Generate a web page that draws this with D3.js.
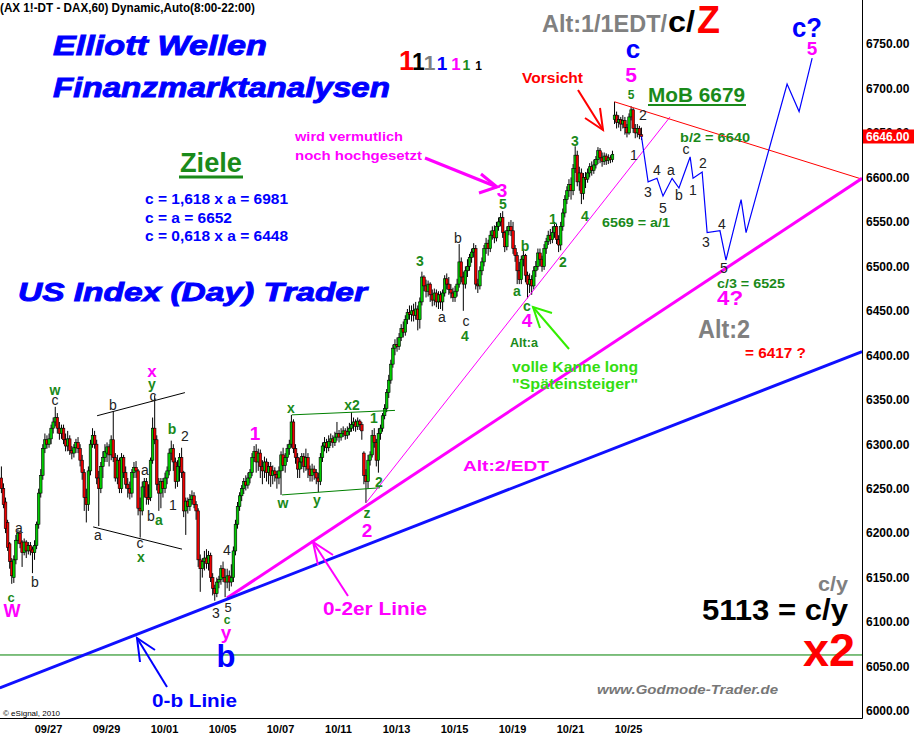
<!DOCTYPE html>
<html><head><meta charset="utf-8">
<script src="https://cdn.jsdelivr.net/npm/d3@7"></script>
<style>html,body{margin:0;padding:0;background:#fff;} svg{display:block;}</style>
</head><body><div id="chart"></div>
<script>
// ---------- DATA ----------
const dayLabels = ["09/23","09/24","09/27","09/28","09/29","09/30","10/01","10/04","10/05","10/06","10/07","10/08","10/11","10/12","10/13","10/14","10/15","10/18","10/19","10/20","10/21","10/22","10/25"];
const tickDays = ["09/27","09/29","10/01","10/05","10/07","10/11","10/13","10/15","10/19","10/21","10/25"];
const barsPerDay = 14;
const firstDayBars = 2;

const opens = [
6262,6250,
6235,6212,6188,6168,6150,6170,6192,6200,6190,6178,6190,6180,6186,6182,
6178,6186,6210,6245,6265,6295,6305,6300,6306,6318,6325,6330,6318,6312,
6318,6305,6298,6306,6293,6290,6296,6302,6295,6282,6268,6240,6232,6270,
6300,6310,6300,6262,6250,6275,6285,6290,6297,6288,6305,6285,6262,6282,
6250,6285,6268,6255,6250,6245,6268,6274,6270,6228,6225,6252,6258,6240,
6240,6282,6318,6305,6255,6245,6258,6250,6262,6270,6290,6295,6280,6258,
6275,6285,6268,6225,6236,6230,6238,6242,6232,6225,6170,6160,6168,6172,
6166,6175,6150,6138,6132,6145,6148,6160,6150,6145,6152,6145,6150,6180,
6210,6230,6242,6250,6258,6254,6262,6268,6285,6292,6280,6290,6275,6270,
6280,6268,6275,6265,6270,6266,6262,6270,6288,6276,6285,6295,6300,6325,
6295,6285,6272,6280,6286,6275,6285,6272,6265,6272,6268,6262,6258,6285,
6298,6302,6296,6303,6306,6302,6308,6312,6308,6312,6315,6310,6314,6318,
6322,6325,6320,6326,6322,6290,6265,6258,6282,6288,6310,6302,6282,6312,
6318,6332,6340,6358,6372,6390,6408,6412,6410,6420,6430,6426,6440,6448,
6446,6450,6445,6452,6440,6460,6488,6478,6472,6480,6468,6462,6470,6460,
6468,6460,6470,6486,6480,6474,6470,6465,6472,6480,6505,6488,6480,6495,
6500,6510,6516,6520,6480,6478,6495,6505,6520,6526,6520,6535,6540,6532,
6545,6550,6555,6538,6522,6540,6545,6540,6520,6512,6495,6485,6508,6512,
6490,6480,6485,6478,6495,6500,6515,6508,6500,6520,6528,6535,6530,6538,
6545,6530,6524,6545,6560,6575,6585,6592,6585,6610,6625,6595,6605,6582,
6600,6598,6605,6612,6608,6614,6620,6630,6622,6618,6624,6619,6622,6620,
6665,6670,6662,6665,6660,6664,6656,6650,6668,6676,6655,6650,6655,6648];
const highs = [
6275,6256,
6240,6215,6190,6172,6175,6198,6204,6203,6192,6194,6192,6190,6190,6185,
6192,6213,6250,6272,6300,6312,6310,6312,6322,6330,6342,6335,6325,6322,
6322,6312,6315,6310,6298,6300,6306,6308,6300,6288,6272,6250,6275,6305,
6318,6315,6305,6270,6280,6292,6300,6302,6300,6310,6337,6290,6288,6285,
6290,6288,6275,6262,6258,6272,6280,6281,6272,6240,6258,6262,6262,6255,
6285,6330,6355,6310,6262,6262,6262,6268,6275,6295,6304,6300,6285,6282,
6290,6296,6270,6240,6240,6244,6248,6246,6236,6228,6176,6172,6180,6182,
6180,6178,6155,6142,6150,6152,6164,6168,6160,6160,6158,6165,6185,6215,
6235,6246,6254,6262,6265,6268,6272,6290,6298,6300,6295,6294,6282,6286,
6284,6280,6280,6276,6274,6270,6275,6292,6296,6290,6300,6305,6333,6328,
6300,6290,6285,6290,6290,6295,6290,6276,6278,6276,6272,6268,6290,6302,
6308,6306,6310,6312,6310,6314,6325,6316,6318,6320,6318,6320,6324,6336,
6330,6328,6330,6328,6325,6292,6272,6288,6292,6316,6318,6306,6318,6322,
6335,6345,6362,6378,6395,6412,6418,6420,6425,6435,6438,6445,6452,6456,
6456,6458,6460,6456,6465,6494,6490,6485,6484,6482,6474,6475,6474,6472,
6472,6474,6490,6492,6488,6480,6476,6478,6486,6525,6510,6494,6500,6508,
6514,6520,6526,6524,6486,6500,6510,6524,6532,6530,6540,6545,6546,6550,
6555,6560,6562,6540,6545,6550,6552,6550,6524,6516,6505,6512,6518,6514,
6494,6492,6490,6500,6506,6520,6520,6512,6525,6532,6540,6542,6545,6550,
6548,6535,6550,6565,6580,6590,6598,6600,6615,6635,6630,6612,6610,6605,
6606,6610,6616,6618,6620,6624,6634,6633,6628,6628,6627,6626,6625,6630,
6685,6674,6670,6668,6670,6668,6660,6672,6680,6678,6660,6660,6658,6656];
const lows = [
6245,6228,
6200,6180,6160,6143,6144,6165,6188,6183,6162,6175,6172,6176,6175,6155,
6170,6182,6205,6240,6260,6290,6295,6296,6300,6312,6320,6312,6305,6306,
6300,6292,6292,6288,6283,6285,6290,6290,6275,6260,6225,6212,6225,6265,
6296,6295,6255,6208,6245,6262,6280,6280,6275,6282,6280,6258,6255,6245,
6245,6262,6250,6240,6238,6240,6262,6262,6220,6195,6220,6240,6232,6232,
6236,6278,6300,6248,6225,6228,6240,6245,6255,6265,6282,6270,6250,6252,
6258,6262,6218,6198,6222,6225,6232,6228,6215,6162,6134,6150,6158,6160,
6158,6145,6130,6124,6128,6138,6142,6145,6128,6138,6135,6140,6145,6175,
6205,6225,6236,6244,6248,6250,6256,6264,6280,6268,6270,6262,6255,6262,
6258,6255,6252,6255,6258,6250,6255,6243,6270,6268,6280,6288,6296,6290,
6278,6262,6262,6272,6268,6270,6262,6258,6258,6260,6255,6246,6254,6280,
6292,6290,6292,6298,6296,6298,6304,6302,6304,6308,6305,6306,6310,6314,
6315,6314,6316,6316,6305,6255,6234,6250,6276,6285,6296,6275,6268,6305,
6314,6328,6336,6352,6368,6386,6400,6404,6406,6416,6420,6422,6435,6440,
6438,6438,6440,6428,6430,6456,6472,6465,6466,6460,6455,6456,6454,6452,
6452,6450,6466,6474,6468,6464,6460,6460,6466,6476,6482,6450,6475,6488,
6495,6504,6510,6474,6470,6474,6490,6500,6514,6512,6516,6530,6526,6528,
6540,6545,6532,6516,6518,6535,6534,6514,6505,6480,6480,6480,6500,6482,
6464,6470,6468,6474,6488,6496,6500,6494,6496,6514,6524,6525,6526,6532,
6525,6516,6518,6540,6555,6570,6578,6575,6580,6605,6590,6585,6570,6575,
6588,6594,6600,6602,6604,6610,6615,6616,6612,6614,6614,6615,6616,6617,
6660,6655,6656,6652,6655,6648,6645,6648,6664,6650,6644,6645,6643,6642];
const closes = [
6250,6232,
6205,6184,6168,6152,6170,6192,6200,6188,6178,6190,6180,6186,6180,6178,
6186,6210,6245,6265,6295,6305,6300,6306,6318,6325,6330,6318,6312,6318,
6305,6298,6306,6293,6290,6296,6302,6295,6282,6268,6240,6232,6270,6300,
6310,6300,6262,6250,6275,6285,6292,6297,6288,6305,6285,6262,6282,6250,
6285,6268,6255,6250,6245,6268,6274,6270,6228,6225,6252,6258,6240,6238,
6282,6318,6305,6255,6245,6258,6250,6262,6270,6290,6295,6280,6258,6275,
6285,6268,6225,6236,6230,6238,6242,6232,6225,6170,6160,6168,6172,6166,
6175,6150,6138,6132,6145,6148,6160,6150,6145,6152,6145,6150,6180,6210,
6230,6242,6250,6258,6254,6262,6268,6285,6292,6280,6290,6275,6270,6280,
6268,6275,6265,6270,6266,6262,6270,6288,6276,6285,6295,6300,6325,6295,
6285,6272,6280,6286,6275,6285,6272,6265,6272,6268,6262,6258,6285,6298,
6302,6296,6303,6306,6302,6308,6312,6308,6312,6315,6310,6314,6318,6322,
6325,6320,6326,6322,6315,6265,6258,6282,6288,6310,6302,6282,6312,6318,
6332,6340,6358,6372,6390,6408,6412,6410,6420,6430,6426,6440,6448,6446,
6450,6445,6452,6440,6460,6488,6478,6472,6480,6468,6462,6470,6460,6468,
6460,6470,6486,6480,6474,6470,6465,6472,6480,6505,6488,6480,6495,6500,
6510,6516,6520,6480,6478,6495,6505,6520,6526,6520,6535,6540,6532,6545,
6550,6555,6538,6522,6540,6545,6540,6520,6512,6495,6485,6508,6512,6490,
6480,6485,6478,6495,6500,6515,6508,6500,6520,6528,6535,6530,6538,6545,
6530,6524,6545,6560,6575,6585,6592,6585,6610,6625,6595,6605,6582,6600,
6598,6605,6612,6608,6614,6620,6630,6622,6618,6624,6619,6622,6620,6626,
6670,6662,6665,6660,6664,6656,6650,6668,6676,6655,6650,6655,6648,6646];

const priceTicks = d3.range(6000, 6751, 50);
const lastPrice = 6646;

// trend lines: [bar index, price]
const zeroBLine   = [[-0.3, 6026], [416, 6404]];
const zeroTwoLine = [[109.4, 6127], [416, 6599]];
const thinPinkLine = [[176.5, 6234], [323.3, 6668]];
const redLine     = [[296.5, 6685], [416, 6598]];
const greenLevel  = 6063;
const blackUpper  = [[46.7, 6332], [89.1, 6358]];
const blackLower  = [[44.8, 6207], [87.7, 6182]];
const greenUpper  = [[140.8, 6333], [190.5, 6338]];
const greenLower  = [[136, 6243], [183.3, 6251]];
const projection  = [[309.5, 6646], [312.7, 6595], [317, 6599], [319.9, 6579], [324.3, 6599], [327.6, 6588], [333, 6623], [334.4, 6599], [338.8, 6606], [341.2, 6538], [347.4, 6540], [350.3, 6507], [357.6, 6575], [360, 6538], [379.8, 6705], [385.6, 6674], [391.9, 6734]];

// ---------- LAYOUT ----------
const W = 915, H = 740, plotR = 862, plotB = 718;
const FONT = "Arial, 'Liberation Sans', Helvetica, sans-serif";
const BLUE = "#0000ff", MAG = "#ff00ff", GRN = "#1a8a1a", DARK = "#222", GRAY = "#808080", RED = "#ff0000", LIME = "#33dd11";

const svg = d3.select("#chart").append("svg").attr("width", W).attr("height", H)
  .style("font-family", FONT);

const x = d3.scaleLinear().domain([2, 310]).range([4.5, 642.5]);
const y = d3.scaleLinear().domain([6000, 6750]).range([711, 44]);

svg.append("defs").append("clipPath").attr("id", "clip")
  .append("rect").attr("x", 0).attr("y", 0).attr("width", plotR).attr("height", plotB);

const plot = svg.append("g").attr("clip-path", "url(#clip)");
const line = d3.line().x(d => x(d[0])).y(d => y(d[1]));

// green level
plot.append("path").attr("d", line([[-2, greenLevel], [420, greenLevel]]))
  .attr("stroke", "#008000").attr("stroke-width", 1).attr("fill", "none");

// candles
const idx = d3.range(closes.length);
plot.append("g").selectAll("line").data(idx).join("line")
  .attr("x1", i => x(i + 0.5)).attr("x2", i => x(i + 0.5))
  .attr("y1", i => y(highs[i])).attr("y2", i => y(lows[i]))
  .attr("stroke", "#000").attr("stroke-width", 1);
plot.append("g").selectAll("rect").data(idx).join("rect")
  .attr("x", i => x(i + 0.5) - 1.3).attr("width", 2.6)
  .attr("y", i => Math.min(y(opens[i]), y(closes[i])))
  .attr("height", i => Math.max(1, Math.abs(y(opens[i]) - y(closes[i]))))
  .attr("fill", i => closes[i] >= opens[i] ? "#00cc00" : "#ee0000")
  .attr("stroke", "#000").attr("stroke-width", 0.6);

// trend lines
const drawL = (pts, col, w) => plot.append("path").attr("d", line(pts))
  .attr("stroke", col).attr("stroke-width", w).attr("fill", "none");
drawL(blackUpper, "#000", 1); drawL(blackLower, "#000", 1);
drawL(greenUpper, "#008000", 1); drawL(greenLower, "#008000", 1);
drawL(thinPinkLine, MAG, 1);
drawL(redLine, RED, 1);
drawL(zeroTwoLine, MAG, 3);
drawL(zeroBLine, "#1010ff", 3);
drawL(projection, BLUE, 1.2);

// arrows (pixel layout)
const arrows = [
  {c: MAG, w: 3, s: [[425,158],[497,187]], h: [[481,174],[497,187],[479,193]]},
  {c: RED, w: 2, s: [[578,90],[603,130]], h: [[585,118],[603,130],[600,108]]},
  {c: "#33ee00", w: 2, s: [[569,349],[533,307]], h: [[540,328],[533,307],[552,313]]},
  {c: MAG, w: 2, s: [[348,596],[313,542]], h: [[333,555],[313,542],[318,565]]},
  {c: BLUE, w: 2, s: [[167,687],[137,638]], h: [[155,650],[137,638],[140,662]]}
];
const pl = d3.line();
arrows.forEach(a => {
  svg.append("path").attr("d", pl(a.s)).attr("stroke", a.c).attr("stroke-width", a.w).attr("fill", "none");
  svg.append("path").attr("d", pl(a.h)).attr("stroke", a.c).attr("stroke-width", a.w).attr("fill", "none");
});

// axes frame
svg.append("line").attr("x1", plotR + 0.5).attr("x2", plotR + 0.5).attr("y1", 0).attr("y2", plotB + 0.5)
  .attr("stroke", "#000").attr("stroke-width", 1);
svg.append("line").attr("x1", 0).attr("x2", plotR + 0.5).attr("y1", plotB + 0.5).attr("y2", plotB + 0.5)
  .attr("stroke", "#000").attr("stroke-width", 1);

const yAxis = svg.append("g").attr("transform", `translate(${plotR},0)`)
  .call(d3.axisRight(y).tickValues(priceTicks).tickFormat(d3.format(".2f")).tickSize(0).tickPadding(4));
yAxis.select(".domain").remove();
yAxis.selectAll("text").attr("font-size", 12).attr("font-weight", "bold").attr("font-family", FONT).attr("fill", "#000");

const tickIdx = tickDays.map(l => firstDayBars + (dayLabels.indexOf(l) - 1) * barsPerDay + barsPerDay / 2);
const xAxis = svg.append("g").attr("transform", `translate(0,${plotB})`)
  .call(d3.axisBottom(x).tickValues(tickIdx).tickFormat((d, i) => tickDays[i]).tickSize(0).tickPadding(7));
xAxis.select(".domain").remove();
xAxis.selectAll("text").attr("font-size", 11).attr("font-weight", "bold").attr("font-family", FONT).attr("fill", "#000");

// last price tag (covers the neighbouring tick label, as in the original)
svg.append("rect").attr("x", plotR + 1).attr("y", y(lastPrice) - 7).attr("width", 51).attr("height", 14).attr("fill", "#ff0000");
svg.append("text").attr("x", plotR + 4).attr("y", y(lastPrice) + 4.5).text(d3.format(".2f")(lastPrice))
  .attr("font-size", 12).attr("font-weight", "bold").attr("fill", "#fff");

// ---------- ANNOTATIONS ----------
// [text, x, y, size, color, weight, style, anchor, width]
const notes = [
  ["(AX 1!-DT - DAX,60) Dynamic,Auto(8:00-22:00)", 0, 12, 12, "#000", "bold", "normal", "start", 255],
  ["Elliott Wellen", 53, 55, 27, BLUE, "bold", "italic", "start", 214],
  ["Finanzmarktanalysen", 53, 97, 27, BLUE, "bold", "italic", "start", 337],
  ["1", 406.5, 70, 27, RED, "bold", "normal", "middle", 0],
  ["1", 418.5, 70, 23, "#000", "bold", "normal", "middle", 0],
  ["1", 429.5, 70, 21, GRAY, "bold", "normal", "middle", 0],
  ["1", 442, 70, 19, BLUE, "bold", "normal", "middle", 0],
  ["1", 456, 70, 17, MAG, "bold", "normal", "middle", 0],
  ["1", 466.5, 70, 14, GRN, "bold", "normal", "middle", 0],
  ["1", 478.5, 70, 12, "#000", "bold", "normal", "middle", 0],
  ["Alt:1/1EDT/", 542, 32, 24, GRAY, "bold", "normal", "start", 125],
  ["c/", 668, 32, 30, "#000", "bold", "normal", "start", 27],
  ["Z", 697, 33, 38, RED, "bold", "normal", "start", 23],
  ["c", 633, 58, 26, BLUE, "bold", "normal", "middle", 0],
  ["5", 631, 82, 21, MAG, "bold", "normal", "middle", 0],
  ["5", 631, 99, 12, GRN, "bold", "normal", "middle", 0],
  ["Vorsicht", 522, 83, 14, RED, "bold", "normal", "start", 61],
  ["MoB 6679", 648, 102, 20, GRN, "bold", "normal", "start", 97],
  ["c?", 792, 37, 27, BLUE, "bold", "normal", "start", 30],
  ["5", 812, 55, 19, MAG, "bold", "normal", "middle", 0],
  ["b/2 = 6640", 680, 142, 13, GRN, "bold", "normal", "start", 70],
  ["6569 = a/1", 602, 227, 13, GRN, "bold", "normal", "start", 68],
  ["Ziele", 180, 172, 27, GRN, "bold", "normal", "start", 62],
  ["c = 1,618 x a = 6981", 145, 204, 14, BLUE, "bold", "normal", "start", 143],
  ["c = a = 6652", 145, 223, 14, BLUE, "bold", "normal", "start", 87],
  ["c = 0,618 x a = 6448", 145, 241, 14, BLUE, "bold", "normal", "start", 143],
  ["wird vermutlich", 295, 141, 13, MAG, "bold", "normal", "start", 108],
  ["noch hochgesetzt", 295, 160, 13, MAG, "bold", "normal", "start", 127],
  ["US Index (Day) Trader", 18, 301, 25, BLUE, "bold", "italic", "start", 349],
  ["Alt:2/EDT", 463, 471, 14, MAG, "bold", "normal", "start", 86],
  ["Alt:a", 510, 347, 12, GRN, "bold", "normal", "start", 28],
  ["volle Kanne long", 512, 372, 15, LIME, "bold", "normal", "start", 126],
  ["\"Späteinsteiger\"", 512, 389, 15, LIME, "bold", "normal", "start", 126],
  ["c/3 = 6525", 717, 288, 13, GRN, "bold", "normal", "start", 68],
  ["4?", 717, 305, 20, MAG, "bold", "normal", "start", 26],
  ["Alt:2", 698, 338, 25, GRAY, "bold", "normal", "start", 52],
  ["= 6417 ?", 745, 358, 14, RED, "bold", "normal", "start", 61],
  ["c/y", 818, 591, 20, GRAY, "bold", "normal", "start", 30],
  ["5113 = c/y", 702, 620, 29, "#000", "bold", "normal", "start", 146],
  ["x2", 803, 666, 46, RED, "bold", "normal", "start", 52],
  ["www.Godmode-Trader.de", 597, 694, 13, "#777", "bold", "italic", "start", 181],
  ["© eSignal, 2010", 3, 716, 8, "#000", "normal", "normal", "start", 0],
  ["0-b Linie", 152, 707, 19, BLUE, "bold", "normal", "start", 85],
  ["0-2er Linie", 323, 615, 19, MAG, "bold", "normal", "start", 104],
  ["b", 226, 667, 31, BLUE, "bold", "normal", "middle", 0],
  ["y", 226, 639, 19, MAG, "bold", "normal", "middle", 0],
  ["c", 227, 624, 12, GRN, "bold", "normal", "middle", 0],
  ["3", 216, 618, 14, DARK, "normal", "normal", "middle", 0],
  ["5", 228, 612, 13, DARK, "normal", "normal", "middle", 0],
  ["W", 12, 617, 18, MAG, "bold", "normal", "middle", 0],
  ["c", 11, 602, 13, GRN, "bold", "normal", "middle", 0]
];
// wave labels [text, x, y]
const darkLabels = [["a",19,533],["b",35,587],["c",55,405],["b",113,410],["c",153,401],["2",185,441],["a",145,475],["1",173,510],["b",151,521],["a",98,540],["c",140,548],["4",227,555],["b",458,243],["a",442,322],["c",466,326],["2",643,120],["1",634,160],["3",648,197],["4",657,175],["5",663,213],["a",671,175],["b",679,200],["c",686,154],["1",693,195],["2",703,168],["3",706,247],["4",722,229],["5",724,273]];
const greenLabels = [["w",55,395],["y",152,389],["b",172,434],["a",159,525],["x",141,562],["x",291,413],["x2",352,410],["1",374,423],["w",283,508],["y",317,505],["2",379,487],["z",367,518],["5",503,209],["3",420,266],["4",465,341],["b",525,251],["a",517,296],["c",527,311],["1",553,224],["2",563,267],["4",585,221],["3",575,146]];
const pinkLabels = [["x",152,377,17],["1",255,440,19],["2",367,537,19],["3",502,197,19],["4",527,327,19]];

darkLabels.forEach(d => notes.push([d[0], d[1], d[2], 14, DARK, "normal", "normal", "middle", 0]));
greenLabels.forEach(d => notes.push([d[0], d[1], d[2], 14, GRN, "bold", "normal", "middle", 0]));
pinkLabels.forEach(d => notes.push([d[0], d[1], d[2], d[3], MAG, "bold", "normal", "middle", 0]));

svg.append("g").selectAll("text").data(notes).join("text")
  .attr("x", d => d[1]).attr("y", d => d[2]).text(d => d[0])
  .attr("font-size", d => d[3]).attr("fill", d => d[4])
  .attr("font-weight", d => d[5]).attr("font-style", d => d[6])
  .attr("text-anchor", d => d[7])
  .attr("stroke", d => d[6] === "italic" && d[3] > 20 ? d[4] : "none")
  .attr("stroke-width", d => d[6] === "italic" && d[3] > 20 ? 0.9 : 0)
  .each(function(d) { if (d[8] > 0) d3.select(this).attr("textLength", d[8]).attr("lengthAdjust", "spacingAndGlyphs"); });

// underlines
svg.append("line").attr("x1", 648).attr("x2", 746).attr("y1", 105).attr("y2", 105).attr("stroke", GRN).attr("stroke-width", 2);
svg.append("line").attr("x1", 179).attr("x2", 243).attr("y1", 177).attr("y2", 177).attr("stroke", GRN).attr("stroke-width", 3);
</script>
</body></html>
